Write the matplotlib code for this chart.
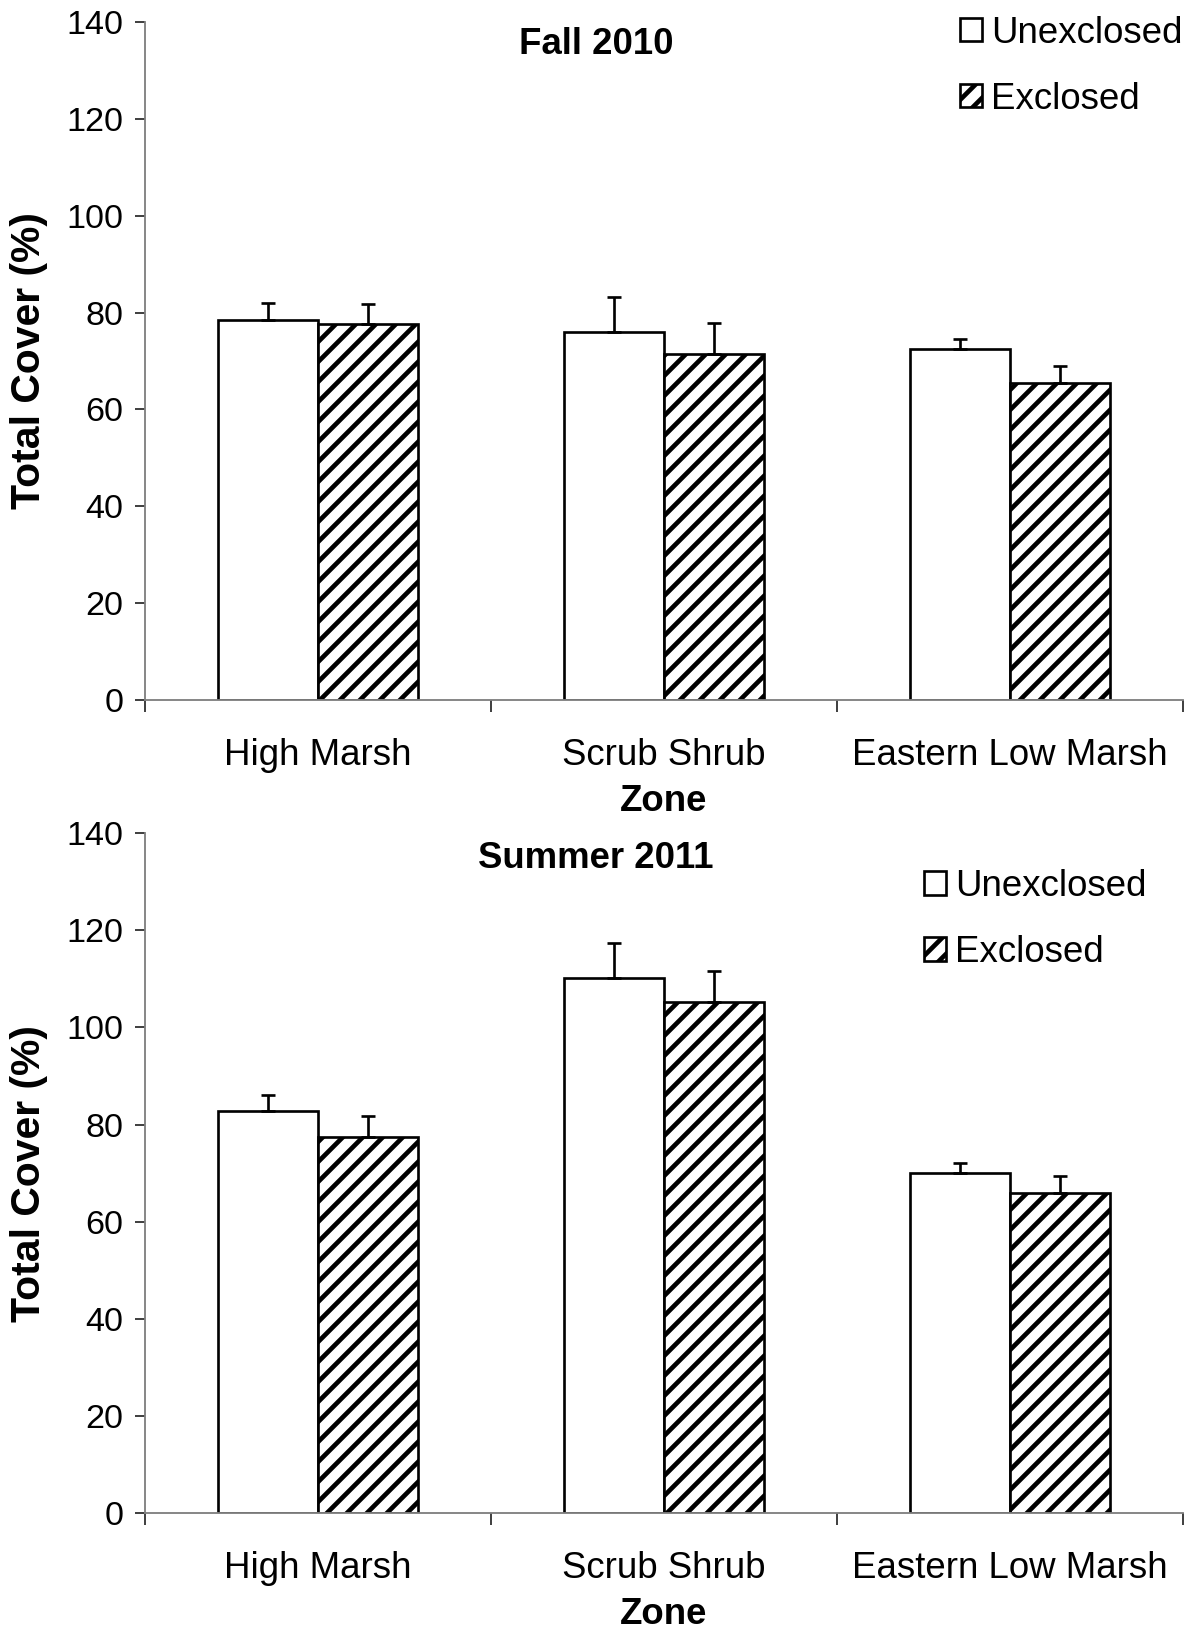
import numpy as np
import matplotlib
matplotlib.use('Agg')
import matplotlib.pyplot as plt

plt.rcParams['font.family'] = ['Liberation Sans', 'DejaVu Sans']
plt.rcParams['hatch.linewidth'] = 2.8

# Data
zones = ['High Marsh', 'Scrub Shrub', 'Eastern Low Marsh']
fall_unex = [78.5, 76.0, 72.5]
fall_unex_err = [3.5, 7.2, 2.0]
fall_ex = [77.6, 71.5, 65.5]
fall_ex_err = [4.2, 6.4, 3.5]
summer_unex = [82.7, 110.2, 70.1]
summer_unex_err = [3.4, 7.2, 1.9]
summer_ex = [77.5, 105.2, 66.0]
summer_ex_err = [4.3, 6.3, 3.5]

DPI = 120
fig = plt.figure(figsize=(1191 / DPI, 1637 / DPI), dpi=DPI)

panels = [
    ('Fall 2010', fall_unex, fall_unex_err, fall_ex, fall_ex_err,
     [0.1217, 0.5724, 0.8715, 0.4142], (0.4345, 0.967), (0.771, 1.031)),
    ('Summer 2011', summer_unex, summer_unex_err, summer_ex, summer_ex_err,
     [0.1217, 0.0757, 0.8715, 0.4154], (0.4345, 0.963), (0.736, 0.969)),
]

x = np.arange(len(zones))
w = 0.29
grey = '#7f7f7f'

for title, unex, unex_err, ex, ex_err, rect, tpos, lpos in panels:
    ax = fig.add_axes(rect)
    ax.bar(x - w / 2, unex, w, color='white', edgecolor='black', linewidth=1.6,
           label='Unexclosed', zorder=2)
    ax.bar(x + w / 2, ex, w, color='white', edgecolor='black', linewidth=1.6,
           hatch='//', label='Exclosed', zorder=2)
    ax.errorbar(x - w / 2, unex, yerr=[np.zeros(3), unex_err], fmt='none',
                ecolor='black', elinewidth=1.6, capsize=4, capthick=1.6, zorder=3)
    ax.errorbar(x + w / 2, ex, yerr=[np.zeros(3), ex_err], fmt='none',
                ecolor='black', elinewidth=1.6, capsize=4, capthick=1.6, zorder=3)

    ax.set_xlim(-0.5, 2.5)
    ax.set_ylim(0, 140)
    ax.set_yticks(np.arange(0, 141, 20))
    ax.set_xticks([-0.5, 0.5, 1.5, 2.5])
    ax.set_xticklabels([])
    ax.set_xticks(x, minor=True)
    ax.set_xticklabels(zones, minor=True, fontsize=22)
    ax.tick_params(axis='x', which='major', length=7, width=1.1, color='#333333')
    ax.tick_params(axis='x', which='minor', length=0, pad=23)
    ax.tick_params(axis='y', length=6, width=1.1, color='#333333', labelsize=20.5, pad=7)
    for s in ['top', 'right']:
        ax.spines[s].set_visible(False)
    for s in ['left', 'bottom']:
        ax.spines[s].set_color(grey)
        ax.spines[s].set_linewidth(1.1)

    ax.set_ylabel('Total Cover (%)', fontsize=24.5, fontweight='bold')
    ax.yaxis.set_label_coords(-0.093, 0.5)
    ax.set_xlabel('Zone', fontsize=22, fontweight='bold')
    ax.xaxis.set_label_coords(0.5, -0.124)
    ax.text(tpos[0], tpos[1], title, transform=ax.transAxes, ha='center', va='center',
            fontsize=22, fontweight='bold')
    ax.legend(loc='upper left', bbox_to_anchor=lpos, frameon=False, fontsize=22,
              handlelength=0.6, handleheight=0.6, handletextpad=0.25, labelspacing=0.85,
              borderaxespad=0)

fig.savefig('out.png', dpi=DPI)
